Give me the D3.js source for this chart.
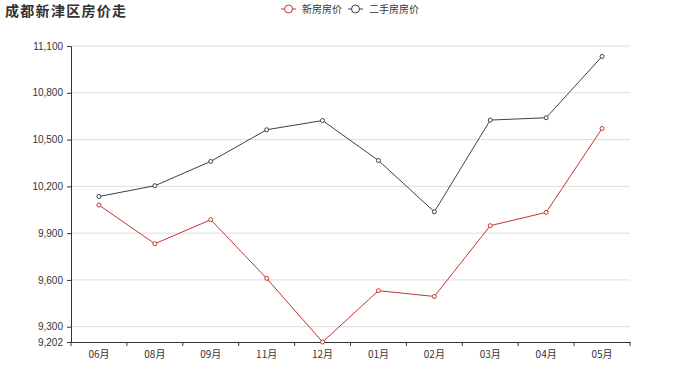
<!DOCTYPE html>
<html>
<head>
<meta charset="utf-8">
<script src="https://cdn.jsdelivr.net/npm/d3@7/dist/d3.min.js"></script>
<style>
  body { margin: 0; background: #fff; }
  text { font-family: "Noto Sans CJK SC", "DejaVu Sans", sans-serif; }
</style>
</head>
<body>
<div id="chart"></div>
<script>
var months = ["06月", "08月", "09月", "11月", "12月", "01月", "02月", "03月", "04月", "05月"];
var newPrice = [10080, 9832, 9986, 9610, 9202, 9531, 9494, 9948, 10033, 10571];
var usedPrice = [10135, 10204, 10360, 10563, 10622, 10366, 10037, 10625, 10640, 11033];
var yTicks = [9202, 9300, 9600, 9900, 10200, 10500, 10800, 11100];
var seriesNames = ["新房房价", "二手房房价"];
var colors = ["#c23531", "#2f4554"];

var svgWidth = 700;
var svgHeight = 389;
var margin = { top: 46, right: 70, bottom: 47, left: 71 };
var width = svgWidth - margin.left - margin.right;
var height = svgHeight - margin.top - margin.bottom;

var svg = d3.select("#chart").append("svg")
  .attr("width", svgWidth)
  .attr("height", svgHeight);

var chartGroup = svg.append("g")
  .attr("transform", `translate(${margin.left}, ${margin.top})`);

var xScale = d3.scaleBand().domain(months).range([0, width]);
var yScale = d3.scaleLinear().domain([9202, 11100]).range([height, 0]);

// grid lines
chartGroup.selectAll(".grid")
  .data(yTicks.slice(1))
  .enter()
  .append("line")
  .attr("x1", 0)
  .attr("x2", width)
  .attr("y1", d => yScale(d))
  .attr("y2", d => yScale(d))
  .attr("stroke", "#ddd")
  .attr("stroke-width", 1);

// y axis
var leftAxis = d3.axisLeft(yScale)
  .tickValues(yTicks)
  .tickFormat(d3.format(","))
  .tickSize(4)
  .tickPadding(4);
var yAxis = chartGroup.append("g").call(leftAxis);
yAxis.select(".domain").attr("stroke", "#333");
yAxis.selectAll(".tick line").attr("stroke", "#333");
yAxis.selectAll("text").attr("fill", "#333").style("font-size", "10px")
  .style("font-family", "'Liberation Sans', Arial, sans-serif");

// x axis, ticks on band boundaries
var bottomAxis = d3.axisBottom(xScale).tickSize(0).tickPadding(9);
var xAxis = chartGroup.append("g")
  .attr("transform", `translate(0, ${height})`)
  .call(bottomAxis);
xAxis.select(".domain").attr("stroke", "#333");
xAxis.selectAll("text").attr("fill", "#333").style("font-size", "10px");
xAxis.selectAll(".bound")
  .data(months.map(m => xScale(m)).concat([width]))
  .enter()
  .append("line")
  .attr("x1", d => d).attr("x2", d => d)
  .attr("y1", 0).attr("y2", 4)
  .attr("stroke", "#333");

var xPos = d => xScale(d) + xScale.bandwidth() / 2;

[newPrice, usedPrice].forEach(function(values, i) {
  var pts = months.map((m, j) => [xPos(m), yScale(values[j])]);
  chartGroup.append("path")
    .attr("d", d3.line()(pts))
    .attr("fill", "none")
    .attr("stroke", colors[i])
    .attr("stroke-width", 1);
  chartGroup.selectAll(".pt" + i)
    .data(pts)
    .enter()
    .append("circle")
    .attr("cx", d => d[0])
    .attr("cy", d => d[1])
    .attr("r", 2)
    .attr("fill", "#fff")
    .attr("stroke", colors[i])
    .attr("stroke-width", 1);
});

// title
svg.append("text")
  .attr("x", 5)
  .attr("y", 16)
  .attr("fill", "#333")
  .style("font-size", "14px")
  .style("font-weight", "bold")
  .style("letter-spacing", "1.3px")
  .text("成都新津区房价走");

// legend
var legendX = [281, 348];
seriesNames.forEach(function(name, i) {
  var g = svg.append("g").attr("transform", `translate(${legendX[i]}, 9)`);
  g.append("line").attr("x1", 0).attr("x2", 15).attr("y1", 0).attr("y2", 0)
    .attr("stroke", colors[i]).attr("stroke-width", 1);
  g.append("circle").attr("cx", 7.5).attr("cy", 0).attr("r", 4)
    .attr("fill", "#fff").attr("stroke", colors[i]).attr("stroke-width", 1);
  g.append("text").attr("x", 21).attr("y", 0).attr("dy", "0.35em")
    .attr("fill", "#333").style("font-size", "10px").text(name);
});
</script>
</body>
</html>
